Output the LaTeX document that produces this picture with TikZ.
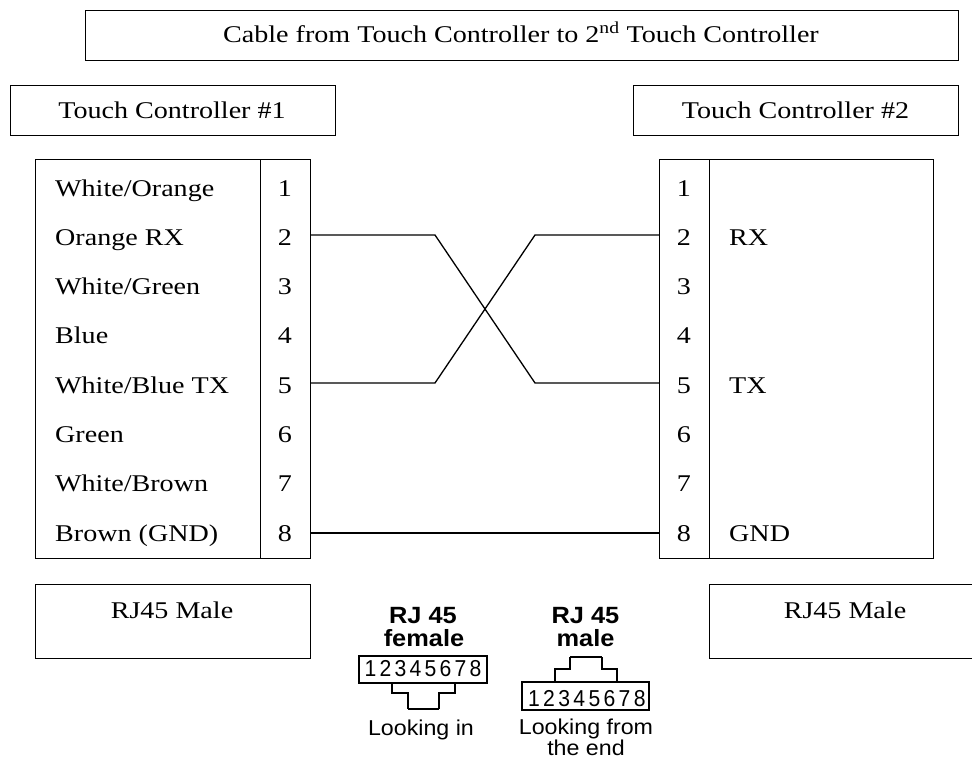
\documentclass[tikz,border=0pt]{standalone}
\usepackage{fontspec}
\setmainfont{Liberation Serif}[FakeStretch=1.17]
\newfontfamily\iconfont{Liberation Sans}[FakeStretch=1.08]
\newfontfamily\icondigit{Liberation Sans}[FakeStretch=0.92]
\newfontfamily\iconbold{Liberation Sans Bold}[FakeStretch=1.08]
\tikzset{
  frame/.style={draw=black, line width=1.3pt, inner sep=0pt, anchor=north west},
  lbl/.style={inner sep=0pt, font=\fontsize{24}{28}\selectfont},
  wire/.style={draw=black, line width=1.3pt},
  ico/.style={inner sep=0pt, font=\iconfont\fontsize{21.5}{24}\selectfont},
  icod/.style={inner sep=0pt, font=\icondigit\fontsize{23}{26}\selectfont},
  icob/.style={inner sep=0pt, font=\iconbold\fontsize{23.5}{26}\selectfont},
  icoline/.style={draw=black, line width=1.1pt},
  icothick/.style={draw=black, line width=2.6pt}
}
\begin{document}
\begin{tikzpicture}[x=1pt,y=-1pt]
\useasboundingbox (0,0) rectangle (972,760);
\fill[white] (0,0) rectangle (972,760);

% header boxes
\node[frame, minimum width=873pt, minimum height=50pt] (title) at (85,10) {};
\node[lbl, anchor=base] (titletxt) at (521,43) {Cable from Touch Controller to 2\textsuperscript{nd} Touch Controller};
\node[frame, minimum width=325pt, minimum height=50pt] (tc1) at (10,85) {};
\node[lbl, anchor=base] (tc1txt) at (172,118) {Touch Controller \#1};
\node[frame, minimum width=325pt, minimum height=50pt] (tc2) at (633,85) {};
\node[lbl, anchor=base] (tc2txt) at (795.5,118) {Touch Controller \#2};

% main boxes
\node[frame, minimum width=225pt, minimum height=399pt] (lcol) at (35,159) {};
\node[frame, minimum width=50pt, minimum height=399pt] (lpin) at (260,159) {};
\node[frame, minimum width=50pt, minimum height=399pt] (rpin) at (659,159) {};
\node[frame, minimum width=224pt, minimum height=399pt] (rcol) at (709,159) {};

% pin numbers
\foreach \i in {1,...,8}{
  \pgfmathsetmacro{\yy}{188+(\i-1)*49.3+8}
  \node[lbl, anchor=base] (ln\i) at (285,\yy) {\i};
  \node[lbl, anchor=base] (rn\i) at (684,\yy) {\i};
}
% left labels
\foreach \t [count=\i] in {White/Orange, Orange RX, White/Green, Blue, White/Blue TX, Green, White/Brown, Brown (GND)}{
  \pgfmathsetmacro{\yy}{188+(\i-1)*49.3+8}
  \node[lbl, anchor=base west] (lt\i) at (55,\yy) {\t};
}
% right labels
\node[lbl, anchor=base west] (rt2) at (729,245.3) {RX};
\node[lbl, anchor=base west] (rt5) at (729,393.2) {TX};
\node[lbl, anchor=base west] (rt8) at (729,541.1) {GND};

% wires
\coordinate (l2) at (310,235);
\coordinate (l5) at (310,383);
\coordinate (l8) at (310,533);
\coordinate (r2) at (659,235);
\coordinate (r5) at (659,383);
\coordinate (r8) at (659,533);
\coordinate (a2) at (435,235);
\coordinate (a5) at (435,383);
\coordinate (b2) at (535,235);
\coordinate (b5) at (535,383);
\draw[wire] (l2) -- (a2) -- (b5) -- (r5);
\draw[wire] (l5) -- (a5) -- (b2) -- (r2);
\draw[wire] (l8) -- (r8);

% RJ45 male boxes
\node[frame, minimum width=275pt, minimum height=74pt] (rjl) at (35,584) {};
\node[lbl, anchor=base] (rjltxt) at (172,618) {RJ45 Male};
\node[frame, minimum width=276pt, minimum height=74pt] (rjr) at (709,584) {};
\node[lbl, anchor=base] (rjrtxt) at (845,618) {RJ45 Male};

% female icon
\node[icob, anchor=base, text depth=0pt] (fa) at (423,623) {RJ 45};
\node[icob, anchor=base, text height=14pt] (fb) at (424,646) {female};
\draw[icoline] (359,656) rectangle (487,683);
\foreach \d [count=\k from 0] in {1,...,8}{
  \node[icod, anchor=base] (fd\d) at (370.5+15*\k,676.5) {\d};
}
\draw[icoline] (392,683) -- (392,693) -- (408,693) -- (408,709);
\draw[icoline] (439,709) -- (439,693) -- (455,693) -- (455,683);
\draw[icothick] (408,709) -- (439,709);
\node[ico, anchor=base] (fl) at (421,735) {Looking in};

% male icon
\node[icob, anchor=base, text depth=0pt] (ma) at (585.5,623) {RJ 45};
\node[icob, anchor=base, text height=14pt] (mb) at (585.5,646) {male};
\draw[icoline] (522,682) rectangle (649,710);
\foreach \d [count=\k from 0] in {1,...,8}{
  \node[icod, anchor=base] (md\d) at (534+15.1*\k,706) {\d};
}
\draw[icoline] (555,682) -- (555,669) -- (570,669) -- (570,657);
\draw[icoline] (602,657) -- (602,669) -- (617,669) -- (617,682);
\draw[icothick] (570,657) -- (602,657);
\node[ico, anchor=base, text depth=0pt] (ml1) at (586,734) {Looking from};
\node[ico, anchor=base, text height=13pt] (ml2) at (586,755) {the end};
\end{tikzpicture}
\end{document}
